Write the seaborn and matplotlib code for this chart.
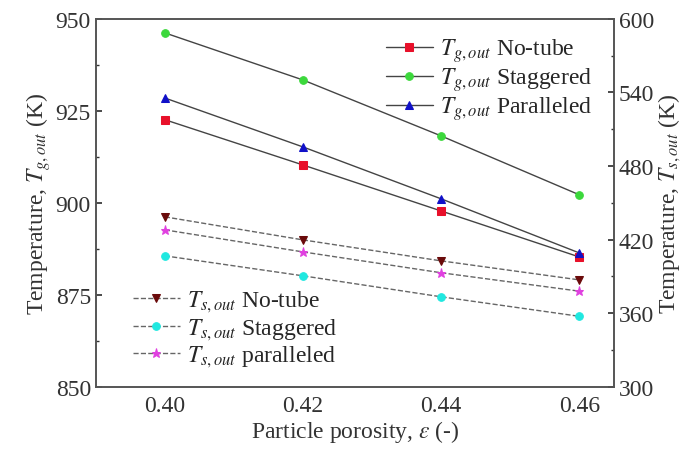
import numpy as np
import pandas as pd
import matplotlib
matplotlib.use("Agg")
import matplotlib.pyplot as plt
import seaborn as sns
from matplotlib.ticker import MultipleLocator

sns.set_theme(style="white")
plt.rcParams['font.family'] = ['Liberation Serif', 'DejaVu Serif']
plt.rcParams['mathtext.fontset'] = 'stix'

porosity = [0.40, 0.42, 0.44, 0.46]
tg_notube = [922.6, 910.3, 897.8, 885.3]
tg_staggered = [946.2, 933.4, 918.2, 902.2]
tg_paralleled = [928.5, 915.2, 901.1, 886.4]
ts_notube = [438.6, 419.8, 402.7, 387.2]
ts_staggered = [406.8, 390.5, 373.4, 357.5]
ts_paralleled = [428.0, 410.0, 393.0, 378.0]

gas_labels = [r'$T_{g,out}$ No-tube', r'$T_{g,out}$ Staggered', r'$T_{g,out}$ Paralleled']
solid_labels = [r'$T_{s,out}$ No-tube', r'$T_{s,out}$ Staggered', r'$T_{s,out}$ paralleled']

gas_df = pd.DataFrame({
    'x': porosity * 3,
    'T': tg_notube + tg_staggered + tg_paralleled,
    'series': sum([[l] * 4 for l in gas_labels], []),
})
solid_df = pd.DataFrame({
    'x': porosity * 3,
    'T': ts_notube + ts_staggered + ts_paralleled,
    'series': sum([[l] * 4 for l in solid_labels], []),
})

fig = plt.figure(figsize=(6.99, 4.52), dpi=100)
ax = fig.add_axes([0.137, 0.142, 0.741, 0.814])
ax2 = ax.twinx()

gas_colors = ['#e8102a', '#3cd83c', '#1010c8']
gas_markers = ['s', 'o', '^']
solid_colors = ['#6a0a0a', '#20e8e0', '#e040e0']
solid_markers = ['v', 'o', '*']

for lab, c, m in zip(gas_labels, gas_colors, gas_markers):
    d = gas_df[gas_df.series == lab]
    sns.lineplot(data=d, x='x', y='T', ax=ax, color='#444444', linewidth=1.0,
                 marker=m, markersize=5.5, markerfacecolor=c, markeredgecolor=c,
                 label=lab, legend=False)
for lab, c, m in zip(solid_labels, solid_colors, solid_markers):
    d = solid_df[solid_df.series == lab]
    sns.lineplot(data=d, x='x', y='T', ax=ax2, color='#666666', linewidth=1.0,
                 linestyle='--', marker=m, markersize=5.5 if m != '*' else 6.5,
                 markerfacecolor=c, markeredgecolor=c, label=lab, legend=False)

ax.set_xlim(0.39, 0.465)
ax.set_ylim(850, 950)
ax2.set_ylim(300, 600)
ax.set_xticks(porosity)
ax.set_xticklabels(['0.40', '0.42', '0.44', '0.46'])
ax.xaxis.set_minor_locator(MultipleLocator(0.01))
ax.set_yticks([850, 875, 900, 925, 950])
ax.yaxis.set_minor_locator(MultipleLocator(12.5))
ax2.set_yticks([300, 360, 420, 480, 540, 600])
ax2.yaxis.set_minor_locator(MultipleLocator(30))

fs = 17
for a in (ax, ax2):
    a.tick_params(which='both', direction='in', colors='#333333', labelcolor='#333333', labelsize=fs)
    a.tick_params(which='major', length=4)
    a.tick_params(which='minor', length=2)
    for s in a.spines.values():
        s.set_color('#555555')
        s.set_linewidth(1.2)
ax.tick_params(axis='both', which='both', top=False, right=False)
ax.tick_params(axis='x', pad=6)
ax2.tick_params(axis='y', which='both', right=True, left=False)

ax.set_xlabel(r'Particle porosity, $\varepsilon$ (-)', fontsize=fs, color='#333333', labelpad=1)
ax.set_ylabel(r'Temperature, $T_{g,out}$ (K)', fontsize=fs, color='#333333', labelpad=2)
ax2.set_ylabel(r'Temperature, $T_{s,out}$ (K)', fontsize=fs, color='#333333', labelpad=2)

h1, l1 = ax.get_legend_handles_labels()
leg1 = ax.legend(h1, l1, loc='upper right', bbox_to_anchor=(1.0, 1.01), frameon=False,
                 fontsize=fs, handlelength=2.0, handletextpad=0.3, labelspacing=0.05)
h2, l2 = ax2.get_legend_handles_labels()
ax2.legend(h2, l2, loc='lower left', bbox_to_anchor=(0.03, -0.01), frameon=False,
           fontsize=fs, handlelength=2.0, handletextpad=0.3, labelspacing=0.1)

fig.savefig('out.png', dpi=100)
